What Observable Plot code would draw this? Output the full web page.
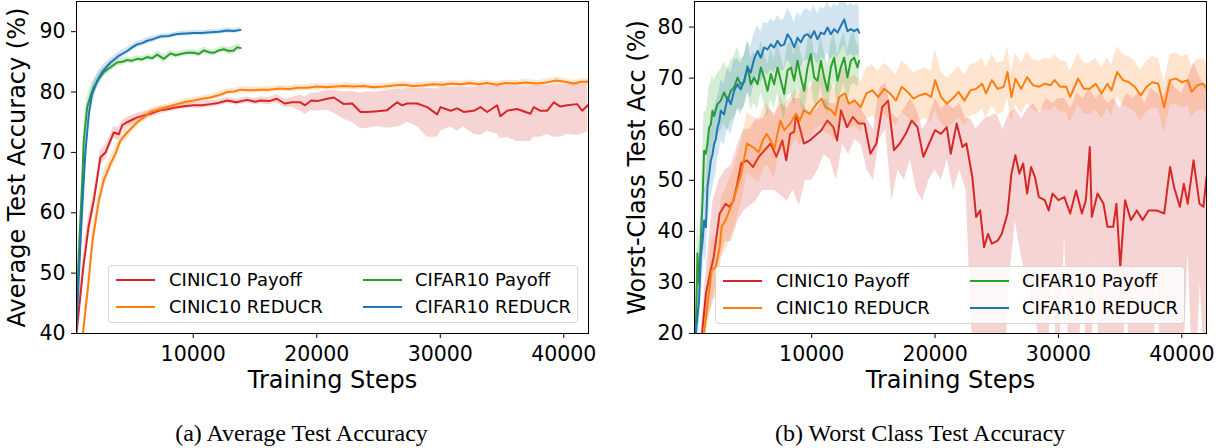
<!DOCTYPE html>
<html>
<head>
<meta charset="utf-8">
<script src="https://cdn.jsdelivr.net/npm/d3@7"></script>
<script src="https://cdn.jsdelivr.net/npm/@observablehq/plot@0.6"></script>
<style>
  html, body { margin: 0; padding: 0; background: #fff; }
  body { width: 1229px; height: 448px; position: relative; overflow: hidden; font-family: "DejaVu Sans", sans-serif; }
  .panel { position: absolute; top: 0; }
  .legend { position: absolute; background: rgba(255,255,255,0.8); border: 1px solid #d6d6d6; border-radius: 4px; box-sizing: border-box; }
  .legend .sw { position: absolute; height: 2px; }
  .legend .lt { position: absolute; font-size: 18px; line-height: 22px; color: #000; white-space: nowrap; }
  .caption { position: absolute; top: 421px; font-family: "Liberation Serif", serif; font-size: 24px; line-height: 24px; text-align: center; color: #000; white-space: nowrap; }
</style>
</head>
<body>
<div id="left" class="panel" style="left:0px"></div>
<div id="right" class="panel" style="left:615px"></div>
<script>
// ---------- labels, ticks, colours ----------
const seriesNames = ["CINIC10 Payoff", "CINIC10 REDUCR", "CIFAR10 Payoff", "CIFAR10 REDUCR"];
const seriesColors = ["#d62728", "#ff7f0e", "#2ca02c", "#1f77b4"];
const xTickValues = [10000, 20000, 30000, 40000];
const avgYTicks = [40, 50, 60, 70, 80, 90];
const worstYTicks = [20, 30, 40, 50, 60, 70, 80];
const xLabel = "Training Steps";
const yLabels = ["Average Test Accuracy (%)", "Worst-Class Test Acc (%)"];
const captions = ["(a) Average Test Accuracy", "(b) Worst Class Test Accuracy"];

// ---------- (a) Average test accuracy ----------
// [step, mean, lo, hi]
const avgCinicPayoff = [
 [550,40,39,41],[800,45,43,47],[1100,51,49,53],[1520,57.6,55.5,59.5],[1950,62,60.5,63.5],[2490,69.2,68,70.4],[2900,70,68.8,71.2],[3300,72,71,73],[3570,73.3,72.3,74.3],[3970,73,72,74],[4250,74.5,73.7,75.3],[4650,75,74.2,75.8],[5460,75.8,75.1,76.5],[6540,76.4,75.8,77],[7350,77,76.4,77.6],[8000,77.2,76.7,77.7],[8700,77.5,77,78],[9400,77.7,77.2,78.2],[10050,77.8,77.3,78.3],[10700,77.8,77.3,78.3],[11400,78,77.5,78.5],[12050,78.2,77.7,78.7],[12750,78.6,78.1,79.1],[13500,78.3,77.8,78.8],[14370,78.7,78.2,79.2],[15000,78.4,77.9,78.9],[15450,78.6,78,79.2],[16150,78.5,77.9,79.1],[16750,78.9,78.2,79.6],[17400,78.1,77.4,78.8],[18000,78.3,77.5,79.1],[18680,78.3,76.8,79.5],[19050,77.8,76.3,79.2],[19550,78.6,77,79.8],[20030,78.5,76.8,79.9],[20840,78.9,77,80.2],[21380,79.1,76.5,80.3],[22190,78,75.5,80],[22870,78.1,75,80.1],[23540,76.7,73.9,79.8],[24080,76.7,74,80],[24890,76.8,74.3,80],[25700,77,74,80.3],[26510,78.3,74.2,80.5],[26910,77.8,74.5,80.5],[27320,78.1,75,80.6],[28130,78.1,74.3,80.6],[28940,77.5,72.5,80.6],[29750,76.3,72.5,80.5],[30020,77.5,73.5,80.8],[30830,76.9,74.2,80.8],[31370,77.3,73.5,80.8],[31900,76.7,74.2,80.8],[32710,76.9,73,80.8],[33250,77.5,72.8,80.9],[33800,76.7,73.5,80.9],[34600,77.8,73,81],[34870,76,72.3,80.9],[35410,76.9,72.5,81],[36220,77.2,71.8,81],[37300,76.4,71.8,81],[37570,77.5,72.5,81.1],[38110,76.9,72.5,81.1],[38650,76.9,73,81.1],[39190,78.3,72.5,81.2],[39730,77.6,72.5,81.2],[40270,77.8,73,81.3],[41080,78,72.8,81.3],[41490,76.9,73,81.3],[41940,77.8,73.5,81.3]
];
// [step, mean, sd]
const avgCinicReducr = [
 [1070,40,1],[1500,48,2],[1850,55.4,2],[2360,62,1.5],[2760,65.4,1.5],[3300,68.1,1.2],[3710,69.8,1.2],[4110,72,1],[4650,73.3,1],[5460,75,0.8],[6000,75.8,0.7],[6540,76.7,0.6],[7350,77.2,0.5],[8000,77.6,0.5],[8700,78,0.5],[9400,78.4,0.5],[10050,78.6,0.5],[10700,78.9,0.5],[11400,79.1,0.5],[12100,79.5,0.5],[12750,80,0.5],[13300,80.1,0.5],[13830,80.4,0.5],[14600,80.3,0.5],[15450,80.4,0.5],[16150,80.4,0.5],[17000,80.6,0.5],[17800,80.5,0.5],[18500,80.7,0.5],[19250,80.7,0.5],[20000,80.9,0.5],[20800,80.8,0.5],[21500,80.9,0.5],[22300,81,0.5],[23000,80.9,0.5],[23800,81,0.5],[24600,80.8,0.5],[25450,80.9,0.5],[26200,81.1,0.5],[27000,81.2,0.5],[27800,81,0.5],[28600,81.1,0.5],[29400,81.3,0.5],[30200,81.2,0.5],[30900,81.4,0.5],[31650,81.3,0.5],[32400,81.5,0.5],[33100,81.3,0.5],[33800,81.5,0.5],[34600,81.2,0.5],[35300,81.5,0.5],[36100,81.4,0.5],[36900,81.6,0.5],[37850,81.4,0.5],[38600,81.6,0.5],[39400,81.9,0.6],[40100,81.7,0.5],[40800,81.4,0.5],[41400,81.7,0.5],[42000,81.7,0.5]
];
const avgCifarPayoff = [
 [550,44,3],[800,56,3],[1010,65,2.5],[1140,72,2],[1410,77.5,1.8],[1680,79.4,1.5],[1950,80.8,1.2],[2360,82.2,1],[2760,83.3,0.8],[3300,84.1,0.7],[3840,84.9,0.6],[4250,85,0.6],[4650,85.3,0.5],[5050,85.2,0.5],[5460,85.5,0.5],[5860,85.4,0.5],[6270,85.8,0.5],[6680,85.6,0.5],[7080,86.2,0.6],[7620,85.5,0.7],[8160,86.4,0.5],[8570,86.1,0.5],[8970,86.3,0.5],[9500,86.5,0.5],[10050,86.5,0.5],[10450,86.3,0.5],[10860,86.9,0.6],[11270,86.6,0.5],[11670,86.5,0.5],[12070,86.9,0.5],[12470,87.1,0.5],[12880,86.8,0.6],[13280,86.9,0.7],[13550,87.4,0.6],[13830,87.3,0.5]
];
const avgCifarReducr = [
 [550,41,3],[870,55,3],[1100,64,3],[1280,70.3,2.5],[1550,76.4,1.8],[1820,79.7,1.5],[2230,81.9,1.2],[2630,83.3,1],[3000,84.2,0.8],[3300,84.9,0.7],[3970,86,0.6],[4650,86.8,0.6],[5060,87.4,0.5],[5460,87.9,0.5],[5860,88.1,0.5],[6270,88.5,0.5],[6800,88.8,0.5],[7350,89.2,0.4],[8000,89.3,0.4],[8700,89.6,0.4],[9400,89.7,0.4],[10050,89.8,0.4],[10700,89.8,0.4],[11400,89.9,0.4],[12100,90,0.4],[12750,90.2,0.4],[13300,90.1,0.4],[13830,90.3,0.4]
];

// ---------- (b) Worst-class test accuracy ----------
// [step, mean]
const worstCinicPayoff = [
 [1110,20],[1430,27.8],[1750,31.7],[2060,35],[2540,43.5],[3020,45.4],[3330,44.8],[3650,46],[3970,49.3],[4290,53.3],[4760,53.9],[5240,52.6],[5710,54.6],[6190,55.9],[6670,57.2],[7140,54.6],[7620,57.8],[7940,53.9],[8250,59.1],[8580,59.5],[8730,63],[9370,57.2],[9840,57.8],[10320,58.8],[10790,59.8],[11270,61.7],[11750,60.4],[12060,57.8],[12380,63.7],[12860,60.4],[13330,62.4],[13810,61.1],[14290,61.1],[14760,55.2],[15240,57.2],[15710,64.3],[16190,65.6],[16670,55.9],[17140,57.2],[17620,59.1],[18100,61.7],[18570,60.4],[19050,54.6],[19520,57.2],[20000,59.8],[20480,59.1],[20950,60.4],[21270,55.2],[21750,61.1],[22220,56.5],[22540,57.2],[23020,50.6],[23330,42.8],[23650,44.1],[23970,36.9],[24290,39.5],[24600,37.6],[25080,38.2],[25400,39.5],[25870,43.5],[26190,51.3],[26510,54.9],[26830,51.3],[27140,53.3],[27460,47.4],[27780,52.6],[28100,50.6],[28410,46.7],[28890,46.1],[29210,44.1],[29520,47.4],[30000,46.1],[30480,46.7],[30950,43.5],[31430,48],[31900,43.5],[32220,46.1],[32540,56.5],[32700,42.8],[33170,47.4],[33650,45.4],[33970,40.9],[34440,40.9],[34700,45.4],[35010,33],[35400,46.1],[35870,42.2],[36350,44.1],[36830,42.2],[37300,44.1],[37940,44.1],[38570,43.5],[39050,52.6],[39370,48.7],[39840,44.8],[40160,49.3],[40480,45.4],[40950,53.9],[41430,45.4],[41750,44.8],[42000,50.6]
];
// [step, lo, hi]
const worstCinicPayoffBand = [
 [1100,18,22],[1500,22,34],[2000,26,46],[2500,34,50],[3000,38,52],[3500,38,53],[4000,42,57],[4500,44,60],[5000,45,60],[5500,46,62],[6000,48,62],[6500,48,64],[7000,48,63],[7500,47,65],[8000,46,64],[8500,48,66],[9000,45,66],[9500,50,64],[10000,50,63],[10500,52,64],[11000,55,66],[11500,54,65],[12000,50,65],[12500,57,67],[13000,55,65],[13500,58,66],[14000,57,64],[14500,52,62],[15000,50,60],[15500,58,68],[16000,60,69],[16500,46,63],[17000,52,62],[17500,50,64],[18000,54,66],[18500,48,64],[19000,46,60],[19500,50,62],[20000,52,66],[20500,50,64],[21000,54,65],[21500,48,64],[22000,52,65],[22500,48,62],[22900,25,62],[23300,5,60],[24000,5,62],[25000,5,63],[25500,5,60],[26000,30,63],[26500,42,64],[27000,35,62],[27500,30,64],[28000,25,65],[28500,18,63],[29000,5,66],[29500,33,65],[30000,10,66],[30500,39,66],[31000,5,64],[31500,10,67],[32000,30,66],[32500,5,68],[33000,34,66],[33500,5,67],[34000,10,65],[34500,5,66],[35000,5,64],[35500,28,67],[36000,5,66],[36500,5,67],[37000,8,65],[37500,5,68],[38000,30,67],[38500,5,66],[39000,5,70],[39500,5,68],[40000,5,67],[40500,36,70],[41000,5,73],[41500,30,70],[42000,5,68]
];
// [step, mean, sd]
const worstCinicReducr = [
 [1270,20,2],[1590,26.5,4],[1900,32.4,6],[2220,33,6],[2540,36.9,6],[2700,40.9,6],[3020,42.2,6],[3330,44.1,6],[3650,46.1,6],[3970,48.7,6],[4290,51.3,6],[4760,57.2,6],[5240,56.5,6],[5710,55.5,6],[6030,57.8,6],[6350,59.1,6],[6670,57.8,6],[6980,56.2,6],[7460,61.7,5],[7780,59.8,5],[8250,61.1,5],[8730,63,5],[9050,61.7,5],[9370,63.7,5],[9840,63,5],[10320,64.7,5],[10790,66,5],[11110,64.3,5],[11590,63.7,5],[11900,62.7,5],[12220,66.3,5],[12700,67,5],[13010,65,5],[13490,65.6,5],[13970,64.3,5],[14440,67,5],[14920,67.6,5],[15400,66.3,5],[15870,67.9,5],[16350,67,5],[16830,65.6,5],[17300,68.3,5],[17780,67.3,5],[18250,66,5],[18730,66.6,5],[19210,67,5],[19680,66.3,5],[20000,69.6,6],[20480,66.3,5],[20950,65,5],[21430,66,5],[21900,67.3,5],[22380,65.6,5],[22860,67.6,5],[23330,67.9,5],[23810,68.9,5],[24130,67,5],[24600,69.6,5],[25080,67.9,5],[25560,68.3,5],[25870,71.2,5],[26190,66.3,5],[26510,69.9,5],[26980,67.9,5],[27460,70.2,5],[27940,68.6,5],[28410,68.3,5],[28890,68.9,5],[29370,68.6,5],[29680,69.6,5],[30160,68.3,5],[30630,68.3,5],[30950,66.3,5],[31590,69.9,5],[32060,67.9,5],[32540,67.9,5],[33020,68.9,5],[33490,67,5],[33970,68.9,5],[34290,67.6,5],[34760,71.2,5],[35240,69.6,5],[35710,69.2,5],[36190,68.3,5],[36670,66.6,5],[37140,68.3,5],[37620,69.2,5],[38090,68.9,5],[38570,64.3,5],[39050,69.6,5],[39520,69.9,5],[40000,69.2,5],[40480,69.6,5],[40790,67.3,5],[41270,68.6,5],[41750,68.9,5],[42000,67.9,5]
];
const worstCifarPayoff = [
 [600,20,3],[740,35.7,8],[870,29.8,8],[1010,38,8],[1150,46,8],[1280,55.8,8],[1420,55.2,8],[1550,57.1,8],[1680,60.3,8],[1820,60.9,8],[1950,63.6,7],[2090,62.6,7],[2360,64.9,6],[2630,65.6,6],[2900,67.2,6],[3180,65.6,6],[3440,67.5,6],[3710,68.2,6],[3990,70.1,6],[4250,68.8,5],[4520,69.2,5],[4800,72.3,5],[5060,68.8,5],[5330,70.1,5],[5610,68.8,5],[5880,72.1,5],[6140,70.1,5],[6420,67.5,5],[6690,70.8,5],[6950,68.8,5],[7230,72.1,5],[7500,69.5,5],[7770,66.9,5],[8040,71.5,5],[8310,72.1,5],[8580,69.5,5],[8850,73.4,5],[9120,70.1,5],[9390,67.5,5],[9660,72.1,5],[9930,74.7,5],[10200,70.1,5],[10470,69.5,5],[10740,73.4,5],[11010,70.1,5],[11280,67.5,5],[11550,72.1,5],[11820,74,5],[12090,69.5,5],[12360,72.1,5],[12630,74,5],[12900,70.1,5],[13170,73.4,5],[13440,74,5],[13710,72.1,4],[13850,73.4,4]
];
const worstCifarReducr = [
 [600,20,3],[870,26.5,6],[1010,35,7],[1150,38,7],[1280,42.1,7],[1420,40.8,7],[1550,48.6,7],[1680,51,7],[1820,53.8,7],[1950,55,7],[2090,57.1,7],[2230,58,7],[2360,60.3,6],[2500,61.5,6],[2630,63.6,6],[2900,62.9,6],[3180,66.2,6],[3440,64.9,6],[3710,67.5,6],[3990,68.8,5],[4250,67.8,5],[4520,69.5,5],[4800,72.1,5],[5060,71.1,5],[5330,73.7,5],[5610,75.3,5],[5880,74,5],[6140,76,5],[6420,75.6,5],[6690,76.6,5],[6950,76,5],[7230,77.3,5],[7500,76.3,5],[7770,76.6,5],[8040,78.6,5],[8310,77.6,5],[8580,76,5],[8850,77.9,5],[9120,77,5],[9390,78.3,5],[9660,78.6,5],[9930,77.9,5],[10200,79.2,5],[10470,77.6,5],[10740,78.9,5],[11010,78.6,5],[11280,79.9,5],[11550,78.6,5],[11820,79.6,5],[12090,78.9,5],[12360,80.2,5],[12630,81.5,5],[12900,79.2,5],[13170,79.6,5],[13440,79.2,5],[13710,79.6,5],[13850,78.9,5]
];

// ---------- helpers ----------
function lineOf(rows) { return rows.map(r => ({x: r[0], y: r[1]})); }
function bandOf(rows) {
  return rows.map(r => r.length === 4 ? {x: r[0], lo: r[2], hi: r[3]} : {x: r[0], lo: r[1] - r[2], hi: r[1] + r[2]});
}
function bandLoHi(rows) { return rows.map(r => ({x: r[0], lo: r[1], hi: r[2]})); }

function makePanel(cfg) {
  const marks = [];
  cfg.series.forEach((s, i) => {
    marks.push(Plot.areaY(s.band, {x: "x", y1: "lo", y2: "hi", fill: seriesColors[i], fillOpacity: 0.2, clip: true}));
    marks.push(Plot.lineY(s.line, {x: "x", y: "y", stroke: seriesColors[i], strokeWidth: 2, clip: true}));
  });
  marks.push(
    Plot.axisX({ticks: xTickValues, tickSize: 5, tickPadding: 8, fontSize: 20.5, tickFormat: d3.format("d"), label: null}),
    Plot.axisY({ticks: cfg.yTicks, tickSize: 5, tickPadding: 6, fontSize: 20.5, label: null}),
    Plot.frame({stroke: "#000", strokeWidth: 1}),
    Plot.text([xLabel], {text: d => d, frameAnchor: "bottom", textAnchor: "middle", lineAnchor: "top", dy: 37, fontSize: 24}),
    Plot.text([cfg.yLabel], {text: d => d, frameAnchor: "left", textAnchor: "middle", rotate: -90, lineAnchor: "top", dx: -cfg.labelOffset, fontSize: 24})
  );
  return Plot.plot({
    width: 614, height: 400,
    marginLeft: cfg.marginLeft, marginRight: cfg.marginRight, marginTop: 1, marginBottom: 67,
    x: {type: "linear", domain: cfg.xDomain},
    y: {type: "linear", domain: cfg.yDomain},
    style: {fontFamily: "DejaVu Sans", fontSize: "20.5px", color: "#000", background: "transparent", overflow: "visible"},
    marks
  });
}

function addLegend(container, left, top) {
  const lg = document.createElement("div");
  lg.className = "legend";
  Object.assign(lg.style, {left: left + "px", top: top + "px", width: "470px", height: "58px"});
  const colX = [[7, 60], [254, 306]];
  const rowY = [14, 41];
  seriesNames.forEach((name, i) => {
    const col = Math.floor(i / 2), row = i % 2;
    const sw = document.createElement("div");
    sw.className = "sw";
    Object.assign(sw.style, {left: colX[col][0] + "px", top: (rowY[row] - 1) + "px", width: "39px", background: seriesColors[i]});
    const t = document.createElement("div");
    t.className = "lt";
    t.textContent = name;
    Object.assign(t.style, {left: colX[col][1] + "px", top: (rowY[row] - 11) + "px"});
    lg.appendChild(sw); lg.appendChild(t);
  });
  container.appendChild(lg);
}

function addCaption(text, left, width) {
  const c = document.createElement("div");
  c.className = "caption";
  c.textContent = text;
  Object.assign(c.style, {left: left + "px", width: width + "px"});
  document.body.appendChild(c);
}

// ---------- build ----------
const leftEl = document.getElementById("left");
leftEl.appendChild(makePanel({
  series: [
    {line: lineOf(avgCinicPayoff), band: bandOf(avgCinicPayoff)},
    {line: lineOf(avgCinicReducr), band: bandOf(avgCinicReducr)},
    {line: lineOf(avgCifarPayoff), band: bandOf(avgCifarPayoff)},
    {line: lineOf(avgCifarReducr), band: bandOf(avgCifarReducr)}
  ],
  xDomain: [550, 42000], yDomain: [40, 95], yTicks: avgYTicks, yLabel: yLabels[0],
  marginLeft: 76, marginRight: 26, labelOffset: 69
}));
addLegend(leftEl, 108, 265);

const rightEl = document.getElementById("right");
rightEl.appendChild(makePanel({
  series: [
    {line: lineOf(worstCinicPayoff), band: bandLoHi(worstCinicPayoffBand)},
    {line: lineOf(worstCinicReducr), band: bandOf(worstCinicReducr)},
    {line: lineOf(worstCifarPayoff), band: bandOf(worstCifarPayoff)},
    {line: lineOf(worstCifarReducr), band: bandOf(worstCifarReducr)}
  ],
  xDomain: [500, 42000], yDomain: [20, 85], yTicks: worstYTicks, yLabel: yLabels[1],
  marginLeft: 79, marginRight: 23, labelOffset: 67
}));
addLegend(rightEl, 100, 266);

addCaption(captions[0], 0, 603);
addCaption(captions[1], 615, 610);
</script>
</body>
</html>
